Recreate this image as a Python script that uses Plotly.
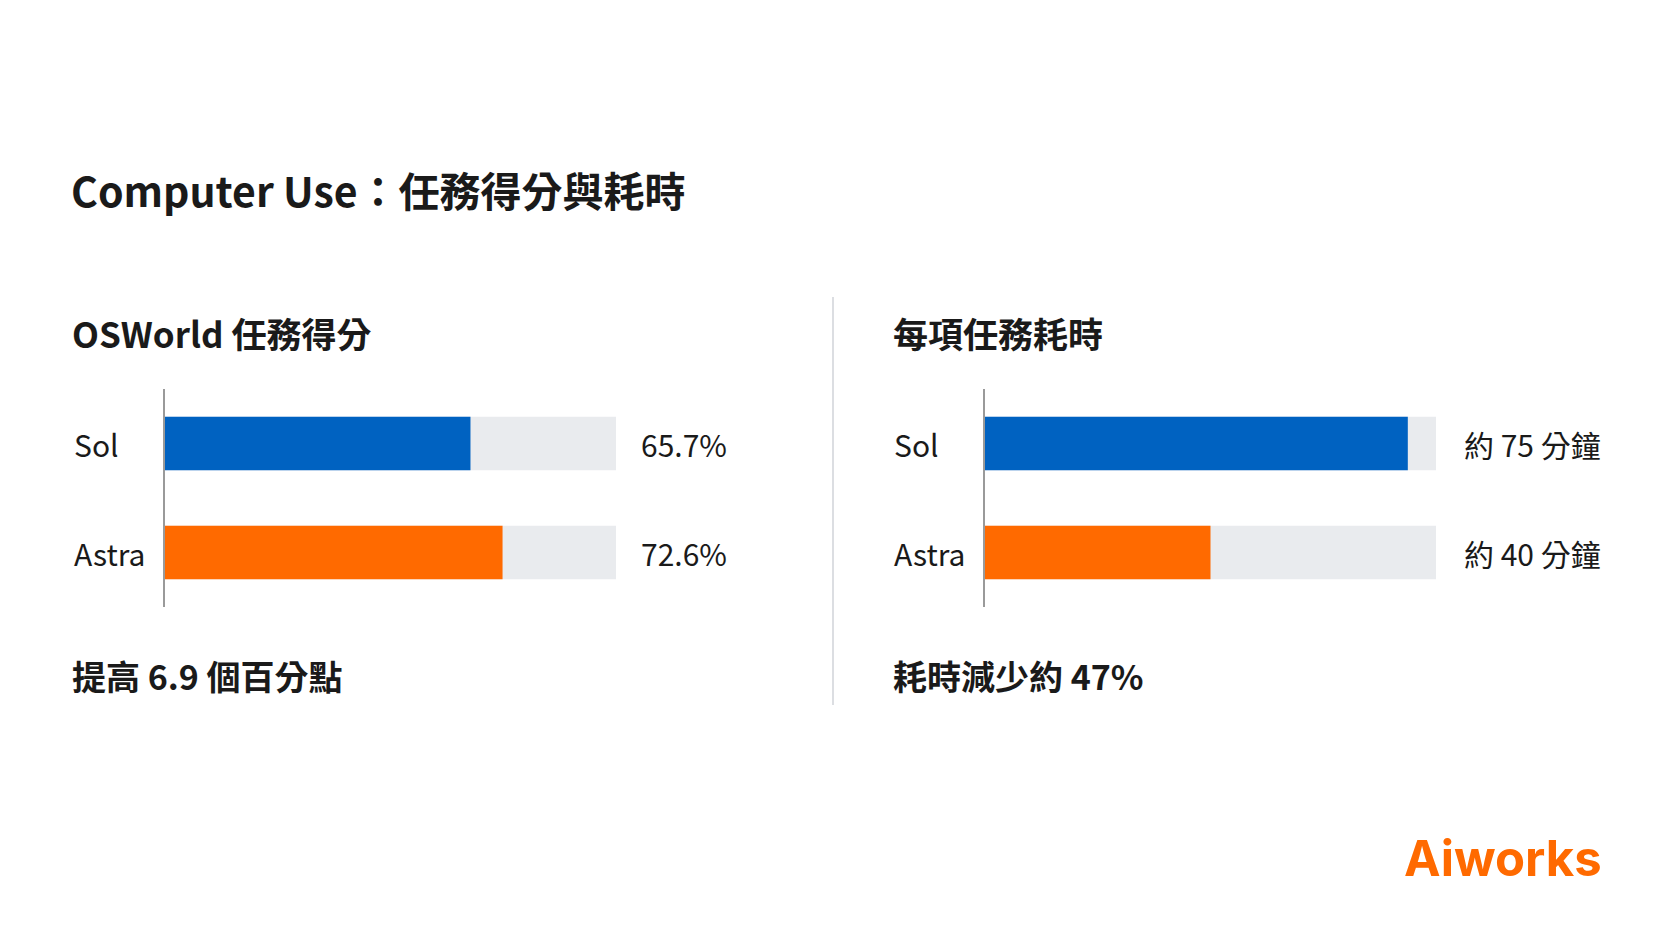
import plotly.graph_objects as go

W, H = 1671, 941
OFF = 9  # page body margin shift
FONT = "Noto Sans CJK TC"

models = ["Sol", "Astra"]
score = [65.7, 72.6]
score_labels = ["65.7%", "72.6%"]
minutes = [75, 40]
minute_labels = ["約 75 分鐘", "約 40 分鐘"]
colors = ["#0062c1", "#ff6a00"]

SCORE_MAX = 97
MINUTE_MAX = 80


def px_x(x):
    return (x - OFF) / (W - 16)


def px_y(y):
    return 1 - (y - OFF) / (H - 16)


fig = go.Figure()


def add_panel(fig, values, vmax, xa, ya):
    fig.add_trace(go.Bar(x=[vmax] * len(models), y=models, orientation="h",
                         marker=dict(color="#e9ebee", line=dict(width=0)),
                         width=0.49, xaxis=xa, yaxis=ya, hoverinfo="skip"))
    fig.add_trace(go.Bar(x=values, y=models, orientation="h",
                         marker=dict(color=colors, line=dict(width=0)),
                         width=0.49, xaxis=xa, yaxis=ya))


add_panel(fig, score, SCORE_MAX, "x", "y")
add_panel(fig, minutes, MINUTE_MAX, "x2", "y2")

ydom = [px_y(608), px_y(390)]
axis_x = dict(showgrid=False, zeroline=False, showticklabels=False, fixedrange=True)
axis_y = dict(showgrid=False, zeroline=False, showticklabels=False,
              showline=True, linecolor="#9a9a9a", linewidth=1.5,
              range=[1.5, -0.5], domain=ydom)

fig.update_layout(
    width=W - 16, height=H - 16,
    margin=dict(l=0, r=0, t=0, b=0),
    paper_bgcolor="#ffffff", plot_bgcolor="rgba(0,0,0,0)",
    barmode="overlay", showlegend=False,
    font=dict(family=FONT, color="#1a1a1a"),
    xaxis=dict(axis_x, domain=[px_x(166), px_x(617)], range=[0, SCORE_MAX]),
    xaxis2=dict(axis_x, domain=[px_x(986), px_x(1437)], range=[0, MINUTE_MAX]),
    yaxis=dict(axis_y, anchor="x"),
    yaxis2=dict(axis_y, anchor="x2"),
)

ann = []


def text(x, y, s, size, bold=False, color="#1a1a1a", yref="paper"):
    ann.append(dict(x=x, y=y, xref="paper", yref=yref, text=f"<b>{s}</b>" if bold else s,
                    showarrow=False, xanchor="left", yanchor="middle",
                    font=dict(size=size, color=color, family=FONT)))


text(px_x(70), px_y(190), "Computer Use：任務得分與耗時", 41, bold=True)
text(px_x(71), px_y(333), "OSWorld 任務得分", 35, bold=True)
text(px_x(892), px_y(333), "每項任務耗時", 35, bold=True)
text(px_x(71), px_y(676), "提高 6.9 個百分點", 34, bold=True)
text(px_x(892), px_y(676), "耗時減少約 47%", 34, bold=True)

for i, m in enumerate(models):
    text(px_x(73), m, m, 30, yref="y")
    text(px_x(893), m, m, 30, yref="y2")
    text(px_x(640), m, score_labels[i], 30, yref="y")
    text(px_x(1463), m, minute_labels[i], 30, yref="y2")

ann.append(dict(x=px_x(1605), y=px_y(859), xref="paper", yref="paper",
                text="<b>Aiworks</b>", showarrow=False, xanchor="right", yanchor="middle",
                font=dict(size=49, color="#ff6a00", family="Inter")))
fig.update_layout(annotations=ann)

fig.add_shape(type="line", xref="paper", yref="paper",
              x0=px_x(834), x1=px_x(834), y0=px_y(298), y1=px_y(706),
              line=dict(color="#d0d3d8", width=1.5))

fig.write_html("out.html")
